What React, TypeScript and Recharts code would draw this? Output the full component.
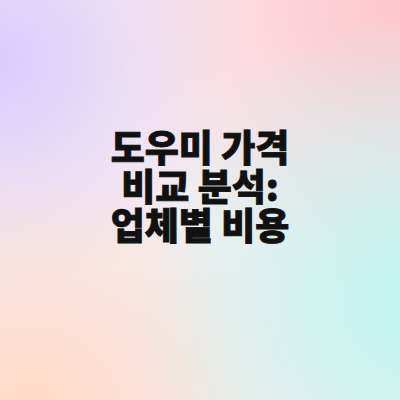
import React from "react";
import { Scatter, ScatterChart, XAxis, YAxis } from "recharts";

// title lines, stacked top to bottom
const titleLines = ["도우미 가격", "비교 분석:", "업체별 비용"];
const lineIndex = [0, 1, 2];

const chartData = titleLines.map((label, i) => ({
  x: 0,
  y: lineIndex[i],
  label,
}));

const TitleShape = (props: any) => {
  const { cx, cy, payload } = props;
  return (
    <text
      x={cx}
      y={cy}
      textAnchor="middle"
      dominantBaseline="central"
      fontFamily="'Noto Sans CJK KR', 'Noto Sans', sans-serif"
      fontWeight={900}
      fontSize={37}
      fill="#111111"
      stroke="#111111"
      strokeWidth={0.8}
    >
      {payload.label}
    </text>
  );
};

const Background = () => (
  <g>
    <defs>
      <radialGradient id="lav" cx="0" cy="60" r="230" gradientUnits="userSpaceOnUse">
        <stop offset="0%" stopColor="#d9ccfc" stopOpacity={1} />
        <stop offset="100%" stopColor="#d9ccfc" stopOpacity={0} />
      </radialGradient>
      <radialGradient id="pink" cx="400" cy="0" r="290" gradientUnits="userSpaceOnUse">
        <stop offset="0%" stopColor="#ffc5cd" stopOpacity={1} />
        <stop offset="100%" stopColor="#ffc5cd" stopOpacity={0} />
      </radialGradient>
      <radialGradient id="cyan" cx="420" cy="300" r="290" gradientUnits="userSpaceOnUse">
        <stop offset="0%" stopColor="#bcf6ee" stopOpacity={1} />
        <stop offset="100%" stopColor="#bcf6ee" stopOpacity={0} />
      </radialGradient>
      <radialGradient id="peach" cx="30" cy="420" r="260" gradientUnits="userSpaceOnUse">
        <stop offset="0%" stopColor="#ffd9c4" stopOpacity={1} />
        <stop offset="100%" stopColor="#ffd9c4" stopOpacity={0} />
      </radialGradient>
    </defs>
    <rect x={0} y={0} width={400} height={400} fill="#f7ecf0" />
    <rect x={0} y={0} width={400} height={400} fill="url(#lav)" />
    <rect x={0} y={0} width={400} height={400} fill="url(#pink)" />
    <rect x={0} y={0} width={400} height={400} fill="url(#peach)" />
    <rect x={0} y={0} width={400} height={400} fill="url(#cyan)" />
  </g>
);

export default function App() {
  return (
    <div style={{ position: "absolute", top: 0, left: 0, width: 400, height: 400 }}>
      <ScatterChart
        width={400}
        height={400}
        margin={{ top: 0, right: 0, bottom: 0, left: 0 }}
      >
        <Background />
        <XAxis type="number" dataKey="x" domain={[-1, 1]} hide />
        <YAxis type="number" dataKey="y" domain={[-3.75, 6.5]} reversed hide />
        <Scatter
          data={chartData}
          shape={TitleShape}
          isAnimationActive={false}
        />
      </ScatterChart>
    </div>
  );
}
